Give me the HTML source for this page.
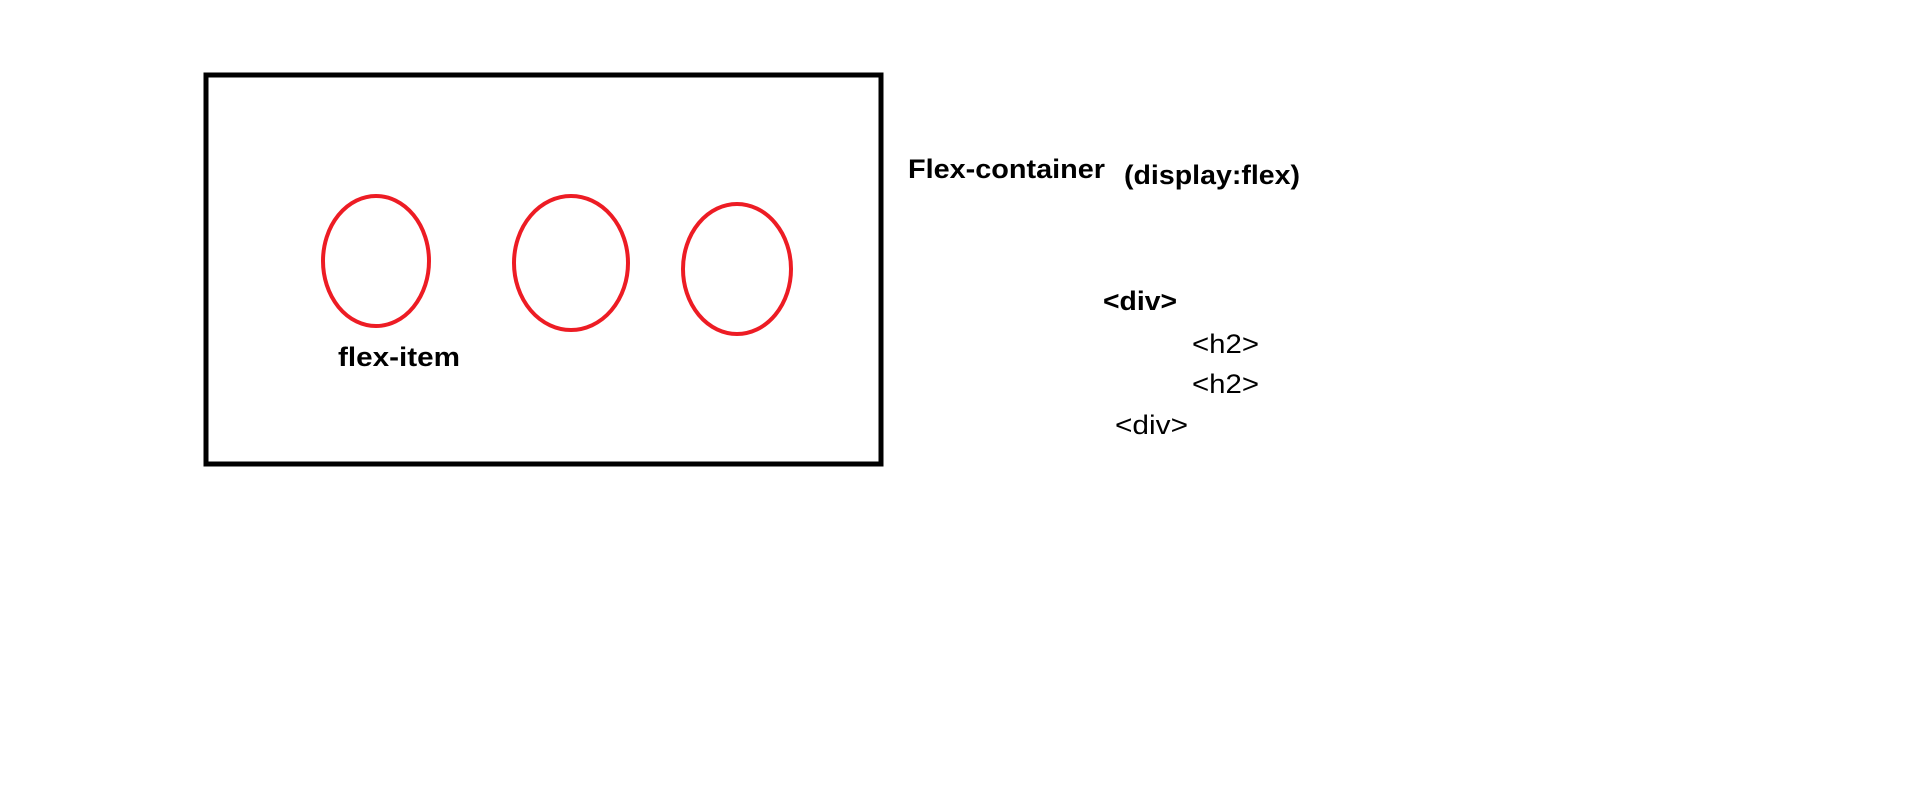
<!DOCTYPE html>
<html><head><style>html,body{margin:0;padding:0;background:#fff;}svg{display:block}</style></head>
<body>
<svg width="1914" height="796" xmlns="http://www.w3.org/2000/svg" font-family="Liberation Sans, sans-serif">
<rect x="206" y="75" width="675" height="389" fill="none" stroke="#000" stroke-width="5"/>
<g fill="none" stroke="#ed1c24" stroke-width="4">
<ellipse cx="376" cy="261" rx="53" ry="65"/>
<ellipse cx="571" cy="263" rx="57" ry="67"/>
<ellipse cx="737" cy="269" rx="54" ry="65"/>
</g>
<g fill="#000" font-size="27">
<text x="338" y="366" font-weight="bold" textLength="122" lengthAdjust="spacingAndGlyphs">flex-item</text>
<text x="908" y="178" font-weight="bold" textLength="197" lengthAdjust="spacingAndGlyphs">Flex-container</text>
<text x="1124" y="184" font-weight="bold" textLength="176" lengthAdjust="spacingAndGlyphs">(display:flex)</text>
<text x="1103" y="310" font-weight="bold" textLength="74" lengthAdjust="spacingAndGlyphs">&lt;div&gt;</text>
<text x="1192" y="353" textLength="67" lengthAdjust="spacingAndGlyphs">&lt;h2&gt;</text>
<text x="1192" y="393" textLength="67" lengthAdjust="spacingAndGlyphs">&lt;h2&gt;</text>
<text x="1115" y="434" textLength="73" lengthAdjust="spacingAndGlyphs">&lt;div&gt;</text>
</g>
</svg>
</body></html>
